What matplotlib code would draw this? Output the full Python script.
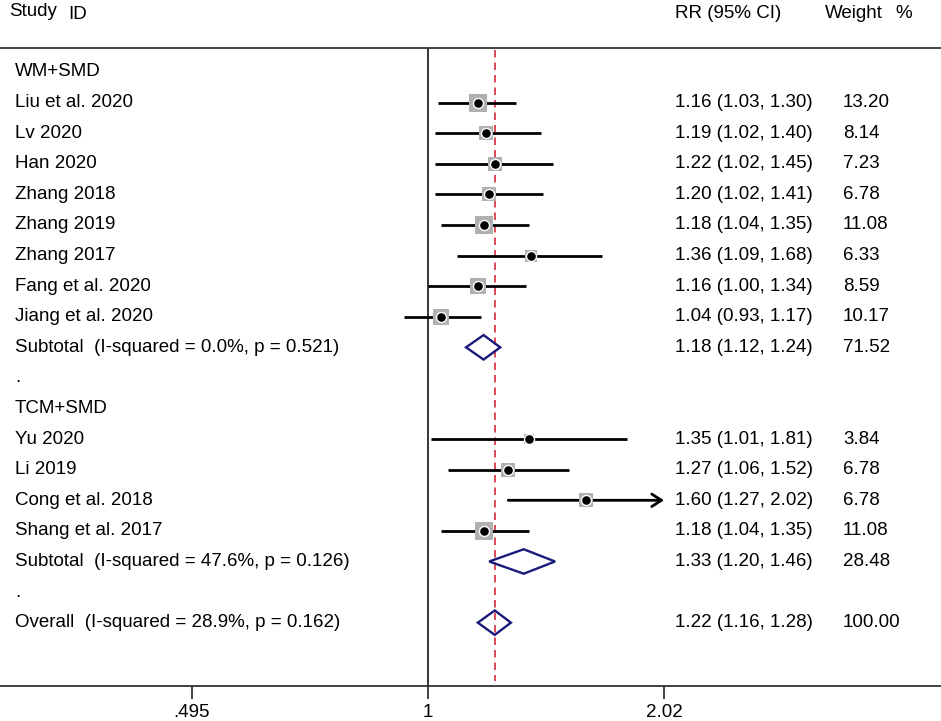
import matplotlib
matplotlib.use('Agg')
import matplotlib.pyplot as plt
import matplotlib.transforms as mtransforms
from matplotlib.patches import Polygon
import numpy as np

plt.rcParams['font.family'] = ['Liberation Sans', 'DejaVu Sans']

# ---- data ----
row_labels = ["WM+SMD", "Liu et al. 2020", "Lv 2020", "Han 2020", "Zhang 2018", "Zhang 2019",
              "Zhang 2017", "Fang et al. 2020", "Jiang et al. 2020",
              "Subtotal  (I-squared = 0.0%, p = 0.521)", ".", "TCM+SMD", "Yu 2020", "Li 2019",
              "Cong et al. 2018", "Shang et al. 2017",
              "Subtotal  (I-squared = 47.6%, p = 0.126)", ".",
              "Overall  (I-squared = 28.9%, p = 0.162)"]
row_kind = ["group", "study", "study", "study", "study", "study", "study", "study", "study",
            "pooled", "blank", "group", "study", "study", "study", "study", "pooled", "blank",
            "pooled"]
rr = [None, 1.16, 1.19, 1.22, 1.20, 1.18, 1.36, 1.16, 1.04, 1.18, None, None,
      1.35, 1.27, 1.60, 1.18, 1.33, None, 1.22]
ci_lo = [None, 1.03, 1.02, 1.02, 1.02, 1.04, 1.09, 1.00, 0.93, 1.12, None, None,
         1.01, 1.06, 1.27, 1.04, 1.20, None, 1.16]
ci_hi = [None, 1.30, 1.40, 1.45, 1.41, 1.35, 1.68, 1.34, 1.17, 1.24, None, None,
         1.81, 1.52, 2.02, 1.35, 1.46, None, 1.28]
weight = [None, 13.20, 8.14, 7.23, 6.78, 11.08, 6.33, 8.59, 10.17, 71.52, None, None,
          3.84, 6.78, 6.78, 11.08, 28.48, None, 100.00]
overall_rr = 1.22
xtick_vals = [0.495, 1, 2.02]
xtick_labels = [".495", "1", "2.02"]

W, H = 941, 721
fig = plt.figure(figsize=(W / 100, H / 100), dpi=100)
ax = fig.add_axes([0, 35 / H, 1, 638 / H])
ax.set_xscale('log')
ax.set_xlim(0.2794, 4.61)
ax.set_ylim(20.07, -0.784)
ax.minorticks_off()

for s in ['left', 'right']:
    ax.spines[s].set_visible(False)
for s in ['top', 'bottom']:
    ax.spines[s].set_color('#333333')
    ax.spines[s].set_linewidth(1.3)

fs = 13.5
ax.set_yticks([])
ax.set_xticks(xtick_vals)
ax.set_xticklabels(xtick_labels, fontsize=fs)
ax.tick_params(axis='x', direction='out', length=9, width=1.3, color='#333333', pad=4)

# null line
ax.axvline(1, color='black', lw=1.1)
# overall dashed line
ax.plot([overall_rr, overall_rr], [-0.72, 19.9], color='#d62a3e', lw=1.2, dashes=(4.5, 3))

tr = mtransforms.blended_transform_factory(ax.transAxes, ax.transData)
xmax = 2.02
for i, (lab, kind) in enumerate(zip(row_labels, row_kind)):
    ax.text(15 / W, i, lab, transform=tr, fontsize=fs, va='center', ha='left')
    if kind == 'study':
        est, lo, hi, w = rr[i], ci_lo[i], ci_hi[i], weight[i]
        if hi >= xmax:
            ax.annotate('', xy=(xmax, i), xytext=(lo, i),
                        arrowprops=dict(arrowstyle='->,head_length=0.7,head_width=0.45',
                                        color='black', lw=2.0, shrinkA=0, shrinkB=0))
        else:
            ax.plot([lo, hi], [i, i], color='black', lw=2.0, solid_capstyle='butt', zorder=2)
        ax.plot([est], [i], marker='s', markersize=3.7 * np.sqrt(w), color='#b0b0b0',
                markeredgewidth=0, zorder=3)
        ax.plot([est], [i], marker='o', markersize=7.2, color='black',
                markeredgecolor='white', markeredgewidth=1.0, zorder=4)
    if kind == 'pooled':
        est, lo, hi = rr[i], ci_lo[i], ci_hi[i]
        poly = Polygon([(lo, i), (est, i - 0.4), (hi, i), (est, i + 0.4)], closed=True,
                       fill=False, edgecolor='#1a1a7a', lw=1.7, zorder=3)
        ax.add_patch(poly)
    if kind in ('study', 'pooled'):
        ax.text(675 / W, i, f"{rr[i]:.2f} ({ci_lo[i]:.2f}, {ci_hi[i]:.2f})", transform=tr,
                fontsize=fs, va='center', ha='left')
        ax.text(843 / W, i, f"{weight[i]:.2f}", transform=tr, fontsize=fs, va='center',
                ha='left')

# header
fig.text(9 / W, 1 - 16 / H, "Study", fontsize=fs, va='baseline', ha='left')
fig.text(68 / W, 1 - 19 / H, "ID", fontsize=fs, va='baseline', ha='left')
fig.text(675 / W, 1 - 18 / H, "RR (95% CI)", fontsize=fs, va='baseline', ha='left')
fig.text(825 / W, 1 - 18 / H, "Weight", fontsize=fs, va='baseline', ha='left')
fig.text(895 / W, 1 - 18 / H, "%", fontsize=fs, va='baseline', ha='left')

fig.savefig('out.png', dpi=100)
